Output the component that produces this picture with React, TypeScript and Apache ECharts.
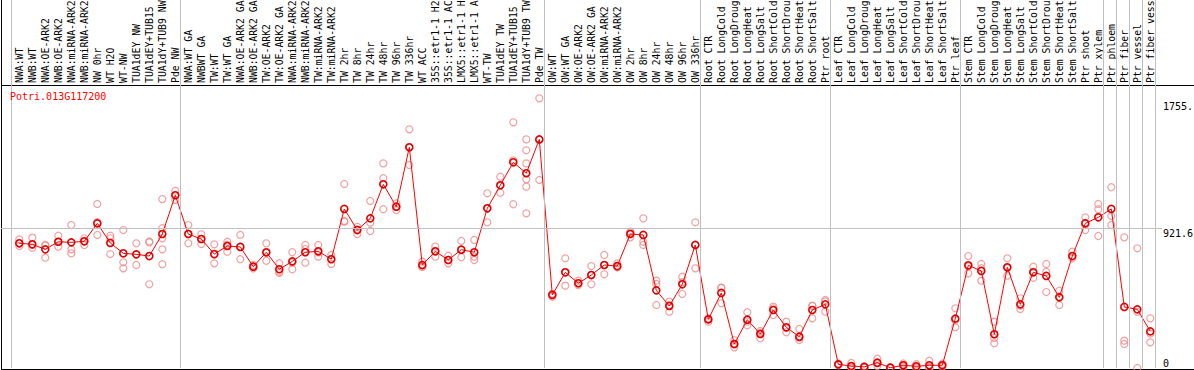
import React, { useEffect, useRef } from "react";
import * as echarts from "echarts";

// Category labels as they appear in the chart (cut to the label column's length)
const categories: string[] = [
  "NWA:WT", "NWB:WT", "NWA:OE-ARK2", "NWB:OE-ARK2", "NWA:miRNA-ARK2", "NWB:miRNA-ARK2", "NW 0hr", "WT H2O", "WT-NW", "TUA1dEY NW", "TUA1dEY+TUB15", "TUA1dY+TUB9 NW", "Pde NW",
  "NWA:WT GA", "NWBWT GA", "TW:WT", "TW:WT GA", "NWA:OE-ARK2 GA", "NWB:OE-ARK2 GA", "TW:OE-ARK2", "TW:OE-ARK2 GA", "NWA:miRNA-ARK2", "NWB:miRNA-ARK2", "TW:miRNA-ARK2", "TW:miRNA-ARK2",
  "TW 2hr", "TW 8hr", "TW 24hr", "TW 48hr", "TW 96hr", "TW 336hr", "WT ACC", "35S::etr1-1 H2", "35S::etr1-1 AC", "LMX5::etr1-1 H", "LMX5::etr1-1 A", "WT-TW", "TUA1dEY TW", "TUA1dEY+TUB15", "TUA1dY+TUB9 TW", "Pde TW",
  "OW:WT", "OW:WT GA", "OW:OE-ARK2", "OW:OE-ARK2 GA", "OW:miRNA-ARK2", "OW:miRNA-ARK2", "OW 2hr", "OW 8hr", "OW 24hr", "OW 48hr", "OW 96hr", "OW 336hr",
  "Root CTR", "Root LongCold", "Root LongDroug", "Root LongHeat", "Root LongSalt", "Root ShortCold", "Root ShortDrou", "Root ShortHeat", "Root ShortSalt", "Ptr root",
  "Leaf CTR", "Leaf LongCold", "Leaf LongDroug", "Leaf LongHeat", "Leaf LongSalt", "Leaf ShortCold", "Leaf ShortDrou", "Leaf ShortHeat", "Leaf ShortSalt", "Ptr leaf",
  "Stem CTR", "Stem LongCold", "Stem LongDroug", "Stem LongHeat", "Stem LongSalt", "Stem ShortCold", "Stem ShortDrou", "Stem ShortHeat", "Stem ShortSalt", "Ptr shoot", "Ptr xylem",
  "Ptr phloem", "Ptr fiber", "Ptr vessel", "Ptr fiber vess",
];

const means: number[] = [
  821, 814, 781, 831, 827, 834, 952, 823, 755, 748, 737, 882, 1137,
  882, 849, 750, 803, 797, 667, 762, 650, 702, 762, 768, 716, 1047, 908, 985, 1209, 1062, 1453, 678, 768, 711, 779, 762, 1051, 1203, 1354, 1282, 1505,
  481, 630, 558, 612, 678, 671, 882, 876, 511, 408, 551, 810,
  320, 494, 158, 318, 224, 382, 268, 206, 382, 419,
  24, 13, 7, 35, 2, 18, 11, 18, 18, 325,
  676, 639, 222, 663, 419, 630, 606, 465, 737, 952, 992,
  1047, 402, 386, 241,
];

const replicates: number[][] = [
  [847, 821, 803], [858, 810, 792], [810, 807, 726], [871, 831, 799], [941, 781, 755], [854, 834, 810], [1080, 960, 876], [871, 854, 750], [908, 696, 656], [821, 748, 678], [827, 833, 551], [1112, 920, 854, 781, 683], [1167, 1137, 1107],
  [941, 884, 821], [880, 849, 816], [814, 747, 689], [831, 812, 766], [876, 799, 716], [678, 667, 656], [821, 759, 706], [690, 634, 626], [762, 694, 650], [810, 783, 693], [810, 761, 733], [744, 719, 685],
  [1211, 967, 963], [929, 913, 882], [1099, 957, 902], [1347, 1249, 1045], [1084, 1062, 1040], [1571, 1452, 1336], [700, 667, 667], [799, 768, 733], [739, 711, 689], [836, 779, 729], [843, 733, 711], [1150, 1051, 959], [1259, 1203, 1154], [1617, 1367, 1078], [1505, 1433, 1347, 1242, 1194, 1018], [1775, 1502, 1238],
  [487, 487, 469], [722, 630, 542], [575, 558, 546], [671, 612, 551], [744, 678, 617], [689, 663, 663], [897, 891, 860], [985, 831, 810], [575, 553, 415], [437, 415, 371], [601, 565, 487], [959, 810, 656],
  [327, 320, 305], [529, 527, 426], [184, 155, 136], [367, 306, 281], [244, 232, 196], [404, 393, 349], [305, 264, 235], [257, 200, 184], [408, 411, 327], [448, 438, 371],
  [30, 24, 18], [33, 5, 2], [12, 7, 2], [61, 30, 14], [5, 1, 0], [30, 18, 6], [25, 8, 0], [48, 5, 1], [28, 18, 8], [393, 314, 268],
  [737, 668, 623], [685, 657, 575], [305, 198, 163], [722, 659, 608], [459, 410, 388], [667, 629, 594], [685, 633, 500], [509, 471, 415], [766, 737, 722], [992, 956, 908], [1080, 1045, 869],
  [1190, 1001, 941], [860, 180, 158], [788, 370, 0], [327, 227, 169],
];

// index of the last category of each group (-1 = before first)
const groupEnds: number[] = [-1, 12, 40, 52, 62, 72, 83, 84, 85, 86, 87];

const yTickLabels: number[] = [921.6, 1755];
const yZeroLabel: number[] = [0];
const gridValue = 921.6;
const geneName = "Potri.013G117200";

const MONO = '"DejaVu Sans Mono", "Liberation Mono", monospace';

export default function App() {
  const ref = useRef<HTMLDivElement>(null);

  useEffect(() => {
    if (!ref.current) return;
    const chart = echarts.init(ref.current, undefined, { renderer: "svg" });

    const W = 1194;
    const H = 370;
    const plotLeft = 12.8;
    const band = 13;
    const plotRight = plotLeft + band * categories.length;
    const plotTop = 88;
    const plotBottom = 368;
    const yMax = 1843.2;

    const decoLeft = 1;
    const decoRight = 1162;
    const xMin = (decoLeft - plotLeft) / band - 0.5;
    const xMax = (decoRight - plotLeft) / band - 0.5;
    const yMaxFull = (yMax * plotBottom) / (plotBottom - plotTop);

    const repData: number[][] = [];
    replicates.forEach((reps, i) => reps.forEach((v) => repData.push([i, v])));

    const labelFmt = (v: number) => (v === 1755 ? "1755." : String(v));

    chart.setOption({
      animation: false,
      title: {
        text: geneName,
        left: 10,
        top: 91,
        padding: 0,
        textStyle: { color: "#ff0000", fontSize: 10, fontFamily: MONO, fontWeight: "normal" },
      },
      grid: [
        { left: plotLeft, right: W - plotRight, top: plotTop, bottom: H - plotBottom, outerBoundsMode: "none", containLabel: false },
        { left: decoLeft, right: W - decoRight, top: 0, bottom: H - plotBottom, outerBoundsMode: "none", containLabel: false },
      ],
      xAxis: [
        {
          type: "category",
          gridIndex: 0,
          data: categories,
          position: "top",
          offset: 3,
          boundaryGap: true,
          axisLine: { show: false },
          axisTick: { show: false },
          splitLine: { show: false },
          axisLabel: {
            rotate: 90,
            interval: 0,
            margin: 2,
            fontSize: 9.8,
            fontFamily: MONO,
            color: "#000",
            hideOverlap: false,
          },
        },
        { type: "value", gridIndex: 1, min: xMin, max: xMax, show: false },
      ],
      yAxis: [
        { type: "value", gridIndex: 0, min: 0, max: yMax, show: false },
        {
          type: "value",
          gridIndex: 1,
          min: 0,
          max: yMaxFull,
          position: "right",
          axisLine: { show: false },
          axisTick: { show: false },
          splitLine: { show: false },
          axisLabel: {
            customValues: yTickLabels,
            formatter: labelFmt,
            margin: 1,
            verticalAlign: "top",
            fontSize: 10,
            fontFamily: MONO,
            color: "#000",
          },
        },
        {
          type: "value",
          gridIndex: 1,
          min: 0,
          max: yMaxFull,
          position: "right",
          axisLine: { show: false },
          axisTick: { show: false },
          splitLine: { show: false },
          axisLabel: {
            customValues: yZeroLabel,
            formatter: labelFmt,
            margin: 1,
            verticalAlign: "bottom",
            fontSize: 10,
            fontFamily: MONO,
            color: "#000",
          },
        },
      ],
      series: [
        {
          type: "line",
          xAxisIndex: 1,
          yAxisIndex: 1,
          data: [[0, 0]],
          showSymbol: false,
          lineStyle: { opacity: 0 },
          silent: true,
          z: 1,
          markLine: {
            silent: true,
            symbol: ["none", "none"],
            label: { show: false },
            lineStyle: { color: "#c0c0c0", type: "solid", width: 1 },
            data: [
              ...groupEnds.map((e) => ({ xAxis: e + 0.38 })),
              { yAxis: gridValue },
            ],
          },
        },
        {
          type: "scatter",
          xAxisIndex: 0,
          yAxisIndex: 0,
          data: repData,
          symbol: "circle",
          symbolSize: 7,
          itemStyle: { color: "rgba(0,0,0,0)", borderColor: "#ee8a8a", borderWidth: 1.2 },
          z: 2,
          silent: true,
        },
        {
          type: "line",
          xAxisIndex: 0,
          yAxisIndex: 0,
          data: means,
          symbol: "circle",
          symbolSize: 7,
          showAllSymbol: true,
          lineStyle: { color: "#ff0000", width: 1 },
          itemStyle: { color: "rgba(0,0,0,0)", borderColor: "#e00000", borderWidth: 1.6 },
          z: 3,
          silent: true,
        },
      ],
      graphic: [
        { type: "line", shape: { x1: 1.5, y1: 0, x2: 1.5, y2: 370 }, style: { stroke: "#000", lineWidth: 1 }, silent: true },
        { type: "line", shape: { x1: 1, y1: 85.5, x2: W, y2: 85.5 }, style: { stroke: "#000", lineWidth: 1 }, silent: true },
        { type: "line", shape: { x1: 1, y1: 369.5, x2: W, y2: 369.5 }, style: { stroke: "#000", lineWidth: 1 }, silent: true },
      ],
    });

    return () => chart.dispose();
  }, []);

  return (
    <div
      ref={ref}
      style={{ position: "absolute", left: 0, top: 0, width: 1194, height: 370 }}
    />
  );
}
